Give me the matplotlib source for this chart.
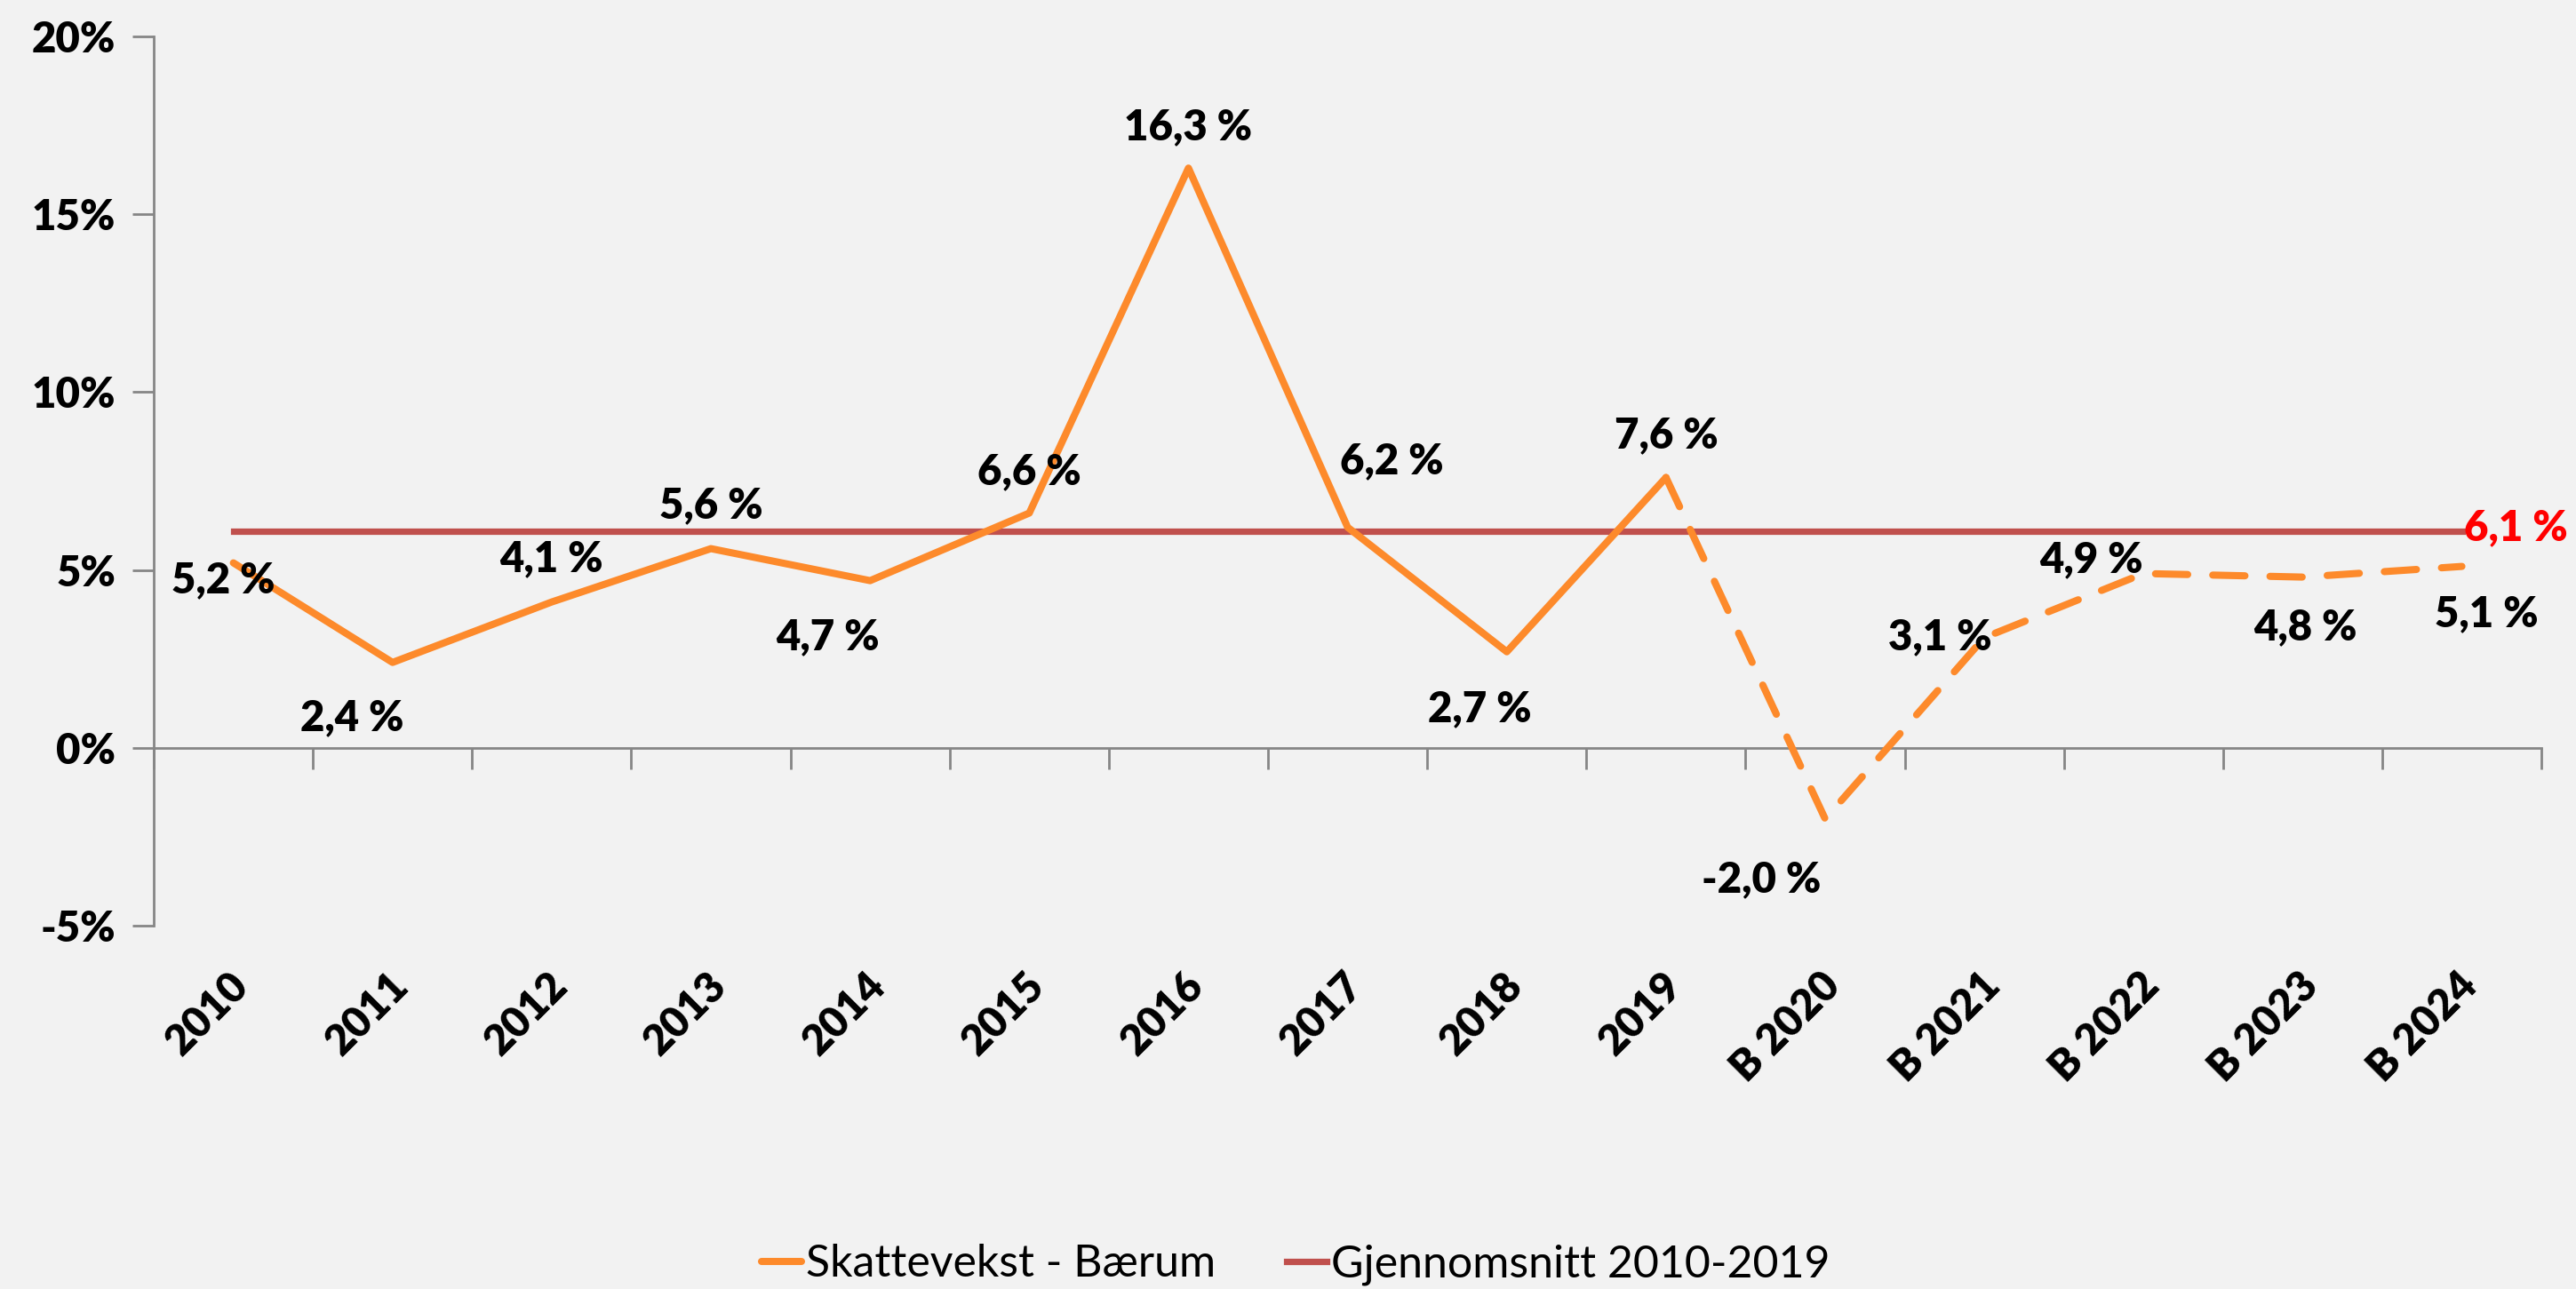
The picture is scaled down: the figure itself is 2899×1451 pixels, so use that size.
import matplotlib
matplotlib.use("Agg")
import matplotlib.pyplot as plt
import numpy as np

# data
years = ["2010", "2011", "2012", "2013", "2014", "2015", "2016", "2017",
         "2018", "2019", "B 2020", "B 2021", "B 2022", "B 2023", "B 2024"]
growth = [5.2, 2.4, 4.1, 5.6, 4.7, 6.6, 16.3, 6.2, 2.7, 7.6, -2.0, 3.1, 4.9, 4.8, 5.1]
avg_2010_2019 = 6.1
n_actual = 10  # 2010-2019 solid, budget years dashed

# label offsets in pixels (dx, dy), dy positive = up
label_offsets = [(-11, -20), (-46, -63), (0, 48), (0, 48), (-48, -64),
                 (0, 46), (0, 46), (50, 74), (-30, -65), (0, 47),
                 (-72, -68), (-50, 0), (-59, 15), (3, -57), (28, -54)]

orange = "#FD8A2B"
red = "#C0504D"
grey = "#868686"
bg = "#F2F2F2"

plt.rcParams["font.family"] = ["Lato", "DejaVu Sans"]
FS = 34

fig = plt.figure(figsize=(28.99, 14.51), dpi=100, facecolor=bg)
ax = fig.add_axes([0.0597, 0.2819, 0.9269, 0.6898], facecolor=bg)

x = np.arange(len(years))

ax.plot(x[:n_actual], growth[:n_actual], color=orange, lw=5.8,
        solid_capstyle="round", solid_joinstyle="round",
        label="Skattevekst - Bærum", zorder=3)
ax.plot(x[n_actual - 1:], growth[n_actual - 1:], color=orange, lw=5.8,
        dashes=(4.5, 3.5), dash_capstyle="round", zorder=3)
ax.plot(x, np.full(len(x), avg_2010_2019), color=red, lw=5.2,
        label="Gjennomsnitt 2010-2019", zorder=2)

fmt = lambda v: f"{v:.1f}".replace(".", ",") + " %"
for xi, v, (dx, dy) in zip(x, growth, label_offsets):
    ax.annotate(fmt(v), (xi, v), xytext=(dx, dy), textcoords="offset pixels",
                ha="center", va="center", fontsize=FS, fontweight="heavy",
                color="black", zorder=4)
ax.annotate(fmt(avg_2010_2019), (x[-1], avg_2010_2019), xytext=(2, 3),
            textcoords="offset pixels", ha="left", va="center",
            fontsize=FS, fontweight="heavy", color="#FF0000", zorder=4)

ax.set_xlim(-0.5, len(years) - 0.5)
ax.set_ylim(-5, 20)
ax.set_yticks([-5, 0, 5, 10, 15, 20])
ax.set_yticklabels([f"{t}%" for t in [-5, 0, 5, 10, 15, 20]],
                   fontsize=FS, fontweight="heavy")

for s in ["top", "right"]:
    ax.spines[s].set_visible(False)
ax.spines["left"].set_color(grey)
ax.spines["left"].set_linewidth(2)
ax.spines["bottom"].set_position(("data", 0))
ax.spines["bottom"].set_color(grey)
ax.spines["bottom"].set_linewidth(2)
ax.tick_params(axis="y", length=17, width=2, color=grey, pad=14)
ax.set_xticks(np.arange(len(years) + 1) - 0.5)
ax.set_xticklabels([])
ax.tick_params(axis="x", length=17, width=2, color=grey)

for xi, lab in zip(x, years):
    ax.text(xi - 0.03, -0.045, lab, transform=ax.get_xaxis_transform(),
            rotation=45, rotation_mode="anchor", ha="right", va="top",
            fontsize=FS, fontweight="heavy")

leg = fig.legend(loc="center", bbox_to_anchor=(0.503, 0.019), ncol=2,
                 frameon=False, fontsize=36, handlelength=0.9,
                 handletextpad=0.1, columnspacing=1.6)

fig.savefig("out.png", dpi=100, facecolor=bg)
